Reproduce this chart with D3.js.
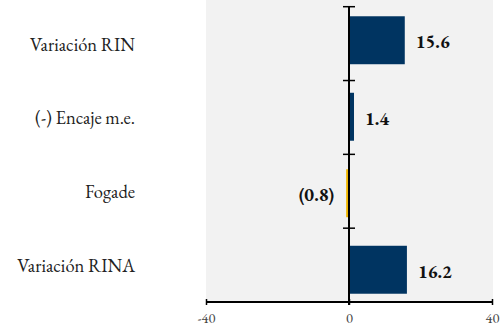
<!DOCTYPE html>
<html><head><meta charset="utf-8">
<script src="https://cdn.jsdelivr.net/npm/d3@7"></script>
<style>body{margin:0;background:#fff}svg{display:block}</style>
</head><body>
<svg id="c" width="501" height="328"></svg>
<script>
const categories = ["Variación RIN", "(-) Encaje m.e.", "Fogade", "Variación RINA"];
const values = [15.6, 1.4, -0.8, 16.2];
const valueLabels = ["15.6", "1.4", "(0.8)", "16.2"];
const xTicks = [-40, 0, 40];

const FONT = "'EB Garamond', 'Liberation Serif', serif";
const svg = d3.select("#c");
const x = d3.scaleLinear().domain([-40, 40]).range([206, 492]);
const yAxis = d3.scaleBand().domain(categories).range([6.7, 302]);
const yBar = d3.scaleBand().domain(categories).range([2, 308]).paddingInner(0.373).paddingOuter(0.1865);

function fitSize(sample, target, weight) {
  const t = svg.append("text").style("font-family", FONT).style("font-size", "20px")
    .style("font-weight", weight || "normal").text(sample);
  const w = t.node().getComputedTextLength();
  t.remove();
  return 20 * target / w;
}
const catSize = fitSize("Variación RIN", 105);
const valSize = 18.5;
const tickSize = 14.5;

svg.append("rect").attr("x", 206).attr("y", 0).attr("width", 287).attr("height", 302).attr("fill", "#f2f2f2");

svg.selectAll("rect.bar").data(values).enter().append("rect")
  .attr("class", "bar")
  .attr("x", (d) => x(Math.min(0, d)))
  .attr("width", (d) => Math.abs(x(d) - x(0)))
  .attr("y", (d, i) => yBar(categories[i]))
  .attr("height", yBar.bandwidth())
  .attr("fill", (d) => d < 0 ? "#f2b800" : "#003461");

svg.selectAll("text.val").data(values).enter().append("text")
  .attr("class", "val")
  .attr("x", (d) => d < 0 ? x(d) - 12 : x(d) + 11)
  .attr("y", (d, i) => yBar(categories[i]) + yBar.bandwidth() / 2 + 2)
  .attr("dy", "0.32em")
  .attr("text-anchor", (d) => d < 0 ? "end" : "start")
  .style("font-family", FONT)
  .style("font-weight", "bold")
  .style("font-size", valSize + "px")
  .attr("fill", "#111")
  .text((d, i) => valueLabels[i]);

// vertical axis
const yTickPos = categories.map(c => yAxis(c));
svg.append("line").attr("x1", x(0)).attr("x2", x(0)).attr("y1", 6.7).attr("y2", 305)
  .attr("stroke", "#000").attr("stroke-width", 2);
svg.selectAll("line.yt").data(yTickPos).enter().append("line")
  .attr("class", "yt")
  .attr("x1", x(0) - 6).attr("x2", x(0) + 6)
  .attr("y1", d => d).attr("y2", d => d)
  .attr("stroke", "#000").attr("stroke-width", 1.5);

svg.selectAll("text.cat").data(categories).enter().append("text")
  .attr("class", "cat")
  .attr("x", 135)
  .attr("y", d => yAxis(d) + yAxis.bandwidth() / 2 + 1)
  .attr("dy", "0.32em")
  .attr("text-anchor", "end")
  .style("font-family", FONT)
  .style("font-size", catSize + "px")
  .attr("fill", "#222")
  .text(d => d);

// x axis
const gx = svg.append("g").attr("transform", "translate(0,302)")
  .call(d3.axisBottom(x).tickValues(xTicks).tickSize(3).tickPadding(8).tickFormat(d => String(d)));
gx.select(".domain").remove();
gx.append("line").attr("x1", 206).attr("x2", 492).attr("stroke", "#000").attr("stroke-width", 2);
gx.selectAll(".tick line").attr("y1", -3).attr("y2", 3).attr("stroke", "#000").attr("stroke-width", 1.5);
gx.selectAll(".tick text").style("font-family", FONT).style("font-size", tickSize + "px").attr("fill", "#444");
</script>
</body></html>
